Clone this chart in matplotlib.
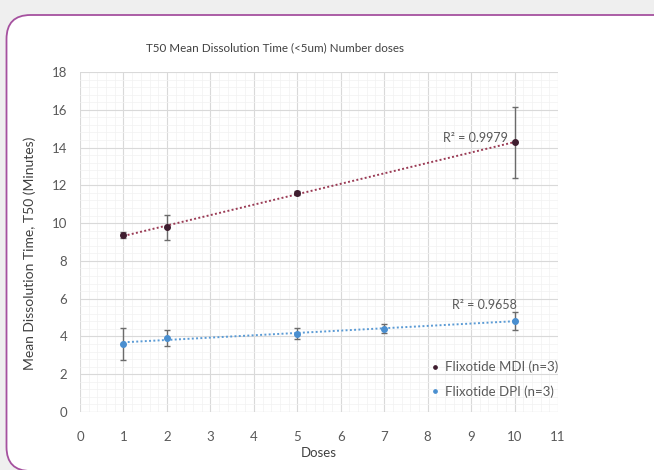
import numpy as np
import matplotlib
matplotlib.use("Agg")
import matplotlib.pyplot as plt
import matplotlib.patches as mpatches
from matplotlib.ticker import MultipleLocator

# data
doses_mdi = [1, 2, 5, 10]
t50_mdi = [9.37, 9.77, 11.6, 14.27]
err_mdi = [0.18, 0.65, 0.1, 1.9]

doses_dpi = [1, 2, 5, 7, 10]
t50_dpi = [3.62, 3.92, 4.15, 4.42, 4.82]
err_dpi = [0.85, 0.4, 0.3, 0.25, 0.5]

r2_labels = ['R² = 0.9979', 'R² = 0.9658']
legend_labels = ['Flixotide MDI (n=3)', 'Flixotide DPI (n=3)']

col_mdi = '#3f1d2f'
col_mdi_line = '#9a3b55'
col_dpi = '#4a8fd0'
col_dpi_line = '#5b9bd5'
txt_gray = '#595959'

fig = plt.figure(figsize=(6.54, 4.70), dpi=100)
fig.patch.set_facecolor('#efefef')

# white card with purple border (pixel coords)
card = mpatches.FancyBboxPatch((6.5, -1), 720, 456, boxstyle="round,pad=0,rounding_size=24",
                               transform=None, facecolor='white', edgecolor='#a5519f',
                               linewidth=1.3, zorder=-10)
fig.patches.append(card)

ax = fig.add_axes([80 / 654, 58 / 470, 478 / 654, 340 / 470])
ax.set_facecolor('none')

ax.set_xlim(0, 11)
ax.set_ylim(0, 18)
ax.xaxis.set_major_locator(MultipleLocator(1))
ax.yaxis.set_major_locator(MultipleLocator(2))
ax.xaxis.set_minor_locator(MultipleLocator(0.2))
ax.yaxis.set_minor_locator(MultipleLocator(0.4))
ax.grid(which='major', color='#d9d9d9', linewidth=0.8)
ax.grid(which='minor', color='#f2f2f2', linewidth=0.5)
ax.set_axisbelow(True)
for s in ax.spines.values():
    s.set_visible(False)
ax.axhline(0, color='#d0d0d0', linewidth=0.8)
ax.tick_params(which='both', length=0)
ax.tick_params(axis='x', pad=14)
ax.tick_params(axis='y', pad=9)
for lab in ax.get_xticklabels() + ax.get_yticklabels():
    lab.set_fontfamily('Lato')
    lab.set_fontsize(9.5)
    lab.set_color(txt_gray)

# trendlines
for xs, ys, c in [(doses_mdi, t50_mdi, col_mdi_line), (doses_dpi, t50_dpi, col_dpi_line)]:
    k, b = np.polyfit(xs, ys, 1)
    xx = np.array([min(xs), max(xs)])
    ax.plot(xx, k * xx + b, linestyle=(0, (1, 1.2)), color=c, linewidth=1.4, zorder=2)

ax.errorbar(doses_mdi, t50_mdi, yerr=err_mdi, fmt='o', color=col_mdi, ecolor='#6b6b6b',
            elinewidth=1, capsize=2, markersize=4, zorder=3, label=legend_labels[0])
ax.errorbar(doses_dpi, t50_dpi, yerr=err_dpi, fmt='o', color=col_dpi, ecolor='#6b6b6b',
            elinewidth=1, capsize=2, markersize=4, zorder=3, label=legend_labels[1])

ax.text(9.85, 14.5, r2_labels[0], ha='right', va='center', fontsize=9,
        color=txt_gray, family='Lato')
ax.text(10.05, 5.65, r2_labels[1], ha='right', va='center', fontsize=9,
        color=txt_gray, family='Lato')

h, l = ax.get_legend_handles_labels()
h = [hh[0] for hh in h]
leg = ax.legend(h, l, loc='upper left', bbox_to_anchor=(7.95, 3.0),
                bbox_transform=ax.transData, frameon=False, borderaxespad=0,
                prop={'family': 'Lato', 'size': 9.5}, handlelength=0.6,
                handletextpad=0.45, markerscale=0.6, labelspacing=0.9)
for t in leg.get_texts():
    t.set_color(txt_gray)

fig.text(275 / 654, 1 - 48 / 470, 'T50 Mean Dissolution Time (<5um) Number doses',
         ha='center', va='center', fontsize=8.4, color='#404040', family='Lato')
fig.text(30 / 654, 1 - 253 / 470, 'Mean Dissolution Time, T50 (Minutes)', rotation=90,
         ha='center', va='center', fontsize=10, color='#404040', family='Lato')
fig.text(319 / 654, 1 - 453 / 470, 'Doses', ha='center', va='center', fontsize=9.5,
         color='#404040', family='Lato')

fig.savefig('out.png', dpi=100, facecolor=fig.get_facecolor())
